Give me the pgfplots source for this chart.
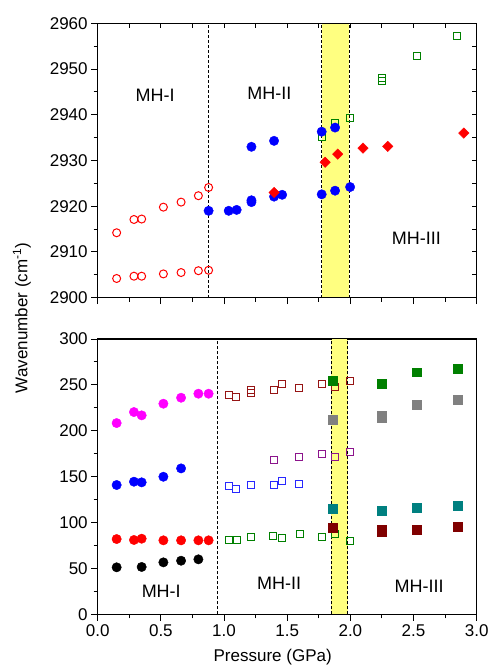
\documentclass[border=0pt]{standalone}
\usepackage{pgfplots}
\pgfplotsset{compat=1.18}
\usepackage{fontspec}
\setmainfont{Liberation Sans}
\definecolor{cRed}{RGB}{255,0,0}
\definecolor{cBlue}{RGB}{0,0,255}
\definecolor{cOBlue}{RGB}{40,40,255}
\definecolor{cGreen}{RGB}{0,128,0}
\definecolor{cMag}{RGB}{255,0,255}
\definecolor{cBrown}{RGB}{150,20,20}
\definecolor{cPurp}{RGB}{140,20,140}
\definecolor{cTeal}{RGB}{0,128,128}
\definecolor{cGray}{RGB}{128,128,128}
\definecolor{cWine}{RGB}{128,0,0}
\definecolor{band}{RGB}{255,255,128}
\pgfplotsset{
  base/.style={scale only axis, width=379pt, xmin=0, xmax=3,
    axis line style={line width=1.1pt},
    every tick/.style={black, line width=1pt},
    tick label style={font=\fontsize{17}{20}\selectfont},
    /pgf/number format/assume math mode=true,
    /pgf/number format/1000 sep={},
    xtick={0,0.5,...,3}, minor x tick num=1, minor y tick num=1,
    xticklabel style={/pgf/number format/.cd, fixed, fixed zerofill, precision=1},
  },
  fc/.style={only marks, mark=*, mark size=4.7pt, mark options={draw=#1, fill=#1}},
  oc/.style={only marks, mark=o, mark size=4.0pt, mark options={draw=#1, line width=1pt}},
  os/.style={only marks, mark=square, mark size=3.5pt, mark options={draw=#1, line width=1pt}},
  fs/.style={only marks, mark=square*, mark size=4.4pt, mark options={draw=#1, fill=#1}},
  fd/.style={only marks, mark=square*, mark size=3.7pt, mark options={draw=#1, fill=#1, rotate=45}},
  dl/.style={black, line width=0.8pt, dash pattern=on 3pt off 2pt},
}
\begin{document}
\begin{tikzpicture}
\useasboundingbox (-97.7pt,23.3pt) rectangle (396.3pt,-646.7pt);
% ---------------- top panel ----------------
\begin{axis}[base, at={(0pt,0pt)}, anchor=north west, height=274.4pt,
  ymin=2900, ymax=2960, ytick={2900,2910,...,2960}, xticklabels={},
  tick align=outside, tick pos=left, major tick length=6.5pt, minor tick length=4pt]
\addplot[fill=band, draw=none] coordinates {(1.773,2900) (1.992,2900) (1.992,2960) (1.773,2960)};
\addplot[dl] coordinates {(0.878,2900) (0.878,2960)};
\addplot[dl] coordinates {(1.773,2900) (1.773,2960)};
\addplot[dl] coordinates {(1.992,2900) (1.992,2960)};
\addplot[os=cGreen] coordinates {(1.773,2935.2) (1.879,2938.2) (1.998,2939.4) (2.248,2947.4) (2.248,2948.1) (2.526,2952.9) (2.847,2957.2)};
\addplot[oc=cRed] coordinates {(0.150,2904.2) (0.287,2904.7) (0.348,2904.7) (0.520,2905.2) (0.660,2905.5) (0.797,2905.9) (0.878,2906.0)};
\addplot[oc=cRed] coordinates {(0.150,2914.2) (0.287,2917.1) (0.348,2917.2) (0.520,2919.8) (0.660,2920.9) (0.797,2922.3) (0.878,2924.1)};
\addplot[fc=cBlue] coordinates {(0.878,2919.0) (1.037,2919.0) (1.100,2919.2) (1.217,2920.9) (1.217,2921.3) (1.217,2933.0) (1.396,2934.3) (1.396,2922.1) (1.460,2922.5) (1.773,2922.6) (1.879,2923.4) (1.998,2924.2) (1.773,2936.3) (1.879,2937.2)};
\addplot[fd=cRed] coordinates {(1.396,2923.0) (1.800,2929.6) (1.900,2931.4) (2.100,2932.7) (2.296,2933.1) (2.898,2936.0)};
\node[font=\fontsize{18}{20}\selectfont] at (axis cs:0.454,2944.2) {MH-I};
\node[font=\fontsize{18}{20}\selectfont] at (axis cs:1.359,2944.6) {MH-II};
\node[font=\fontsize{18}{20}\selectfont] at (axis cs:2.522,2913.0) {MH-III};
\end{axis}
\begin{axis}[base, at={(0pt,0pt)}, anchor=north west, height=274.4pt,
  ymin=2900, ymax=2960, ytick={2900,2910,...,2960}, xticklabels={}, yticklabels={},
  tick align=inside, tick pos=right, major tick length=4.5pt, minor tick length=4.5pt]
\end{axis}
% ---------------- bottom panel ----------------
\begin{axis}[base, at={(0pt,-315.7pt)}, anchor=north west, height=275.3pt,
  ymin=0, ymax=300, ytick={0,50,...,300},
  tick align=outside, tick pos=left, major tick length=6.5pt, minor tick length=4pt]
\addplot[fill=band, draw=none] coordinates {(1.85,0) (1.98,0) (1.98,300) (1.85,300)};
\addplot[dl] coordinates {(0.947,0) (0.947,300)};
\addplot[dl] coordinates {(1.85,0) (1.85,300)};
\addplot[dl] coordinates {(1.98,0) (1.98,300)};
\addplot[fc=cMag] coordinates {(0.150,208.4) (0.287,220.4) (0.348,216.8) (0.520,229.5) (0.660,236.0) (0.797,240.4) (0.878,240.4)};
\addplot[fc=cBlue] coordinates {(0.150,140.9) (0.287,144.5) (0.348,143.8) (0.520,149.9) (0.660,159.0)};
\addplot[fc=cRed] coordinates {(0.150,82.0) (0.287,81.0) (0.348,82.4) (0.520,80.6) (0.660,80.6) (0.797,80.6) (0.878,80.6)};
\addplot[fc=black] coordinates {(0.150,51.2) (0.348,51.6) (0.520,56.6) (0.660,58.4) (0.797,59.9)};
\addplot[os=cBrown] coordinates {(1.040,238.6) (1.097,236.4) (1.216,244.4) (1.216,241.1) (1.398,244.0) (1.457,250.6) (1.597,246.9) (1.779,251.3) (1.876,248.0) (1.998,253.9)};
\addplot[os=cPurp] coordinates {(1.398,168.1) (1.597,171.0) (1.779,174.3) (1.876,171.7) (1.998,176.8)};
\addplot[os=cOBlue] coordinates {(1.040,139.5) (1.097,136.9) (1.216,141.2) (1.398,140.5) (1.457,144.9) (1.597,141.6)};
\addplot[os=cGreen] coordinates {(1.040,81.0) (1.100,81.0) (1.217,84.6) (1.390,85.7) (1.460,83.1) (1.600,87.1) (1.776,83.9) (1.879,87.9) (1.998,79.5)};
\addplot[fs=cGreen] coordinates {(1.858,254.6) (2.248,251.5) (2.525,263.8) (2.847,267.3)};
\addplot[fs=cGray] coordinates {(1.858,211.7) (2.248,214.5) (2.248,216.5) (2.525,228.0) (2.847,233.5)};
\addplot[fs=cTeal] coordinates {(1.858,115.1) (2.248,113.3) (2.525,116.2) (2.847,118.4)};
\addplot[fs=cWine] coordinates {(1.858,94.0) (2.248,90.0) (2.248,92.2) (2.525,92.2) (2.847,95.5)};
\node[font=\fontsize{18}{20}\selectfont] at (axis cs:0.503,25.6) {MH-I};
\node[font=\fontsize{18}{20}\selectfont] at (axis cs:1.437,33.8) {MH-II};
\node[font=\fontsize{18}{20}\selectfont] at (axis cs:2.545,30.8) {MH-III};
\end{axis}
\node[rotate=90, font=\fontsize{17}{20}\selectfont] at (-75.7pt,-294.7pt) {Wavenumber (cm\textsuperscript{-1})};
\node[font=\fontsize{17}{20}\selectfont] at (175pt,-633.7pt) {Pressure (GPa)};
\end{tikzpicture}
\end{document}
